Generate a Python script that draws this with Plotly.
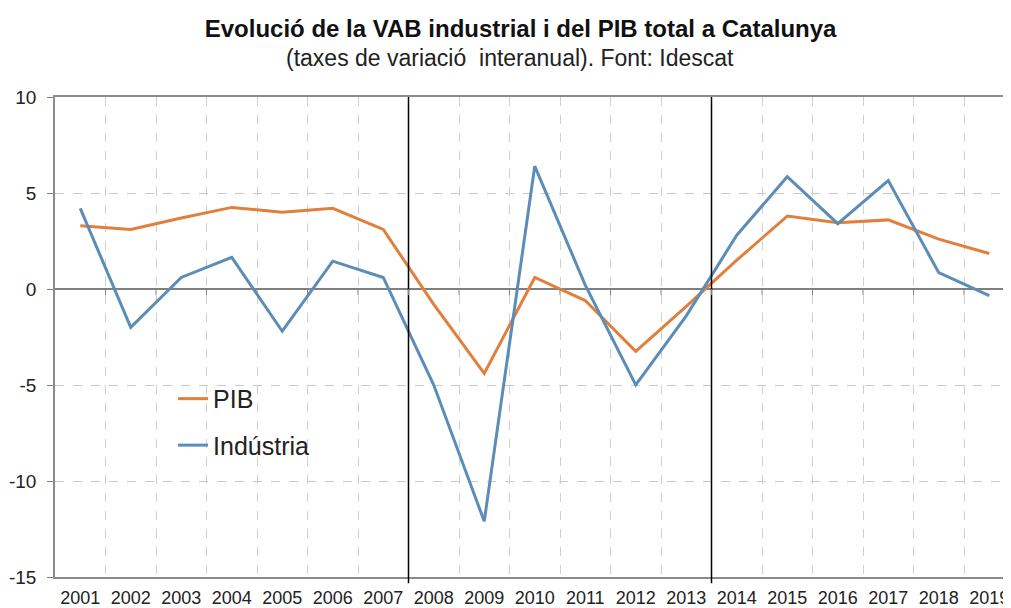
import plotly.graph_objects as go

anys = [str(y) for y in range(2001, 2020)]
pib = [3.3, 3.1, 3.7, 4.25, 4.0, 4.2, 3.1, -0.8, -4.4, 0.6, -0.6, -3.25, -0.9, 1.5,
       3.8, 3.45, 3.6, 2.6, 1.85]
industria = [4.2, -2.0, 0.6, 1.65, -2.2, 1.45, 0.6, -5.0, -12.1, 6.4, 0.2, -5.0, -1.4, 2.8,
             5.85, 3.4, 5.65, 0.85, -0.35]
y_ticks = [-15, -10, -5, 0, 5, 10]
y_ticktext = ["-15", "-10", "-5", "0", "5", "10"]
talls = ["2007", "2013"]  # period separators drawn after these years

titol = "Evolució de la VAB industrial i del PIB total a Catalunya"
subtitol = "(taxes de variació\u00a0 interanual). Font: Idescat"

FONT = "Liberation Sans, Arial, sans-serif"
ORANGE = "#E0803C"
BLUE = "#5B8DB8"

fig = go.Figure()
fig.add_trace(go.Scatter(x=anys, y=pib, mode="lines", name="PIB", legendgroup="a",
                         line=dict(color=ORANGE, width=3)))
fig.add_trace(go.Scatter(x=anys, y=industria, mode="lines", name="Indústria", legendgroup="b",
                         line=dict(color=BLUE, width=3)))

n = len(anys)
shapes = []
for t in talls:
    i = anys.index(t)
    shapes.append(dict(type="line", xref="x", yref="paper", x0=i + 0.5, x1=i + 0.5,
                       y0=-0.013, y1=1, line=dict(color="black", width=1.5)))
# small tick marks on the zero line at category boundaries
for i in range(n):
    shapes.append(dict(type="line", xref="x", yref="y", ysizemode="pixel", yanchor=0,
                       x0=i + 0.5, x1=i + 0.5, y0=0, y1=-6,
                       line=dict(color="#808080", width=1)))

# the page body adds an 8px offset; the figure is sized so the plot lands where the reference has it
fig.update_layout(
    width=1003, height=600,
    margin=dict(l=47, r=0, t=89, b=31),
    paper_bgcolor="white", plot_bgcolor="white",
    font=dict(family=FONT, color="#222222"),
    title=dict(text="<b>" + titol + "</b>", x=0.487, xref="paper", xanchor="center",
               y=0.965, yref="container", yanchor="middle",
               font=dict(size=24, color="#111111", family=FONT)),
    annotations=[dict(text=subtitol, xref="paper", yref="paper", x=0.476, y=1.081,
                      xanchor="center", yanchor="middle", showarrow=False,
                      font=dict(size=23, color="#222222", family=FONT))],
    showlegend=True,
    legend=dict(x=0.1235, y=0.419, xanchor="left", yanchor="top",
                bgcolor="rgba(0,0,0,0)", font=dict(size=25, color="#222222"),
                tracegroupgap=11),
    shapes=shapes,
)
fig.update_xaxes(type="category", range=[-0.5, (1011 - 55) / 50.5 - 0.5],
                 tickson="boundaries", showgrid=True, gridcolor="#D0D0D0",
                 griddash="dash", gridwidth=1, tickangle=0, automargin=False,
                 ticks="", showline=True, mirror=True, linecolor="#8C8C8C", linewidth=1.5,
                 tickfont=dict(size=18, color="#222222"), ticklabelstandoff=4)
fig.update_yaxes(range=[-15, 10], tickvals=y_ticks, ticktext=y_ticktext,
                 showgrid=True, gridcolor="#C8C8C8",
                 griddash="dash", gridwidth=1, automargin=False,
                 zeroline=True, zerolinecolor="#808080", zerolinewidth=1.5,
                 showline=True, linecolor="#8C8C8C", linewidth=1.5,
                 ticks="outside", ticklen=6, tickcolor="#808080",
                 tickfont=dict(size=19, color="#222222"), ticklabelstandoff=7)

fig.write_html("out.html")
